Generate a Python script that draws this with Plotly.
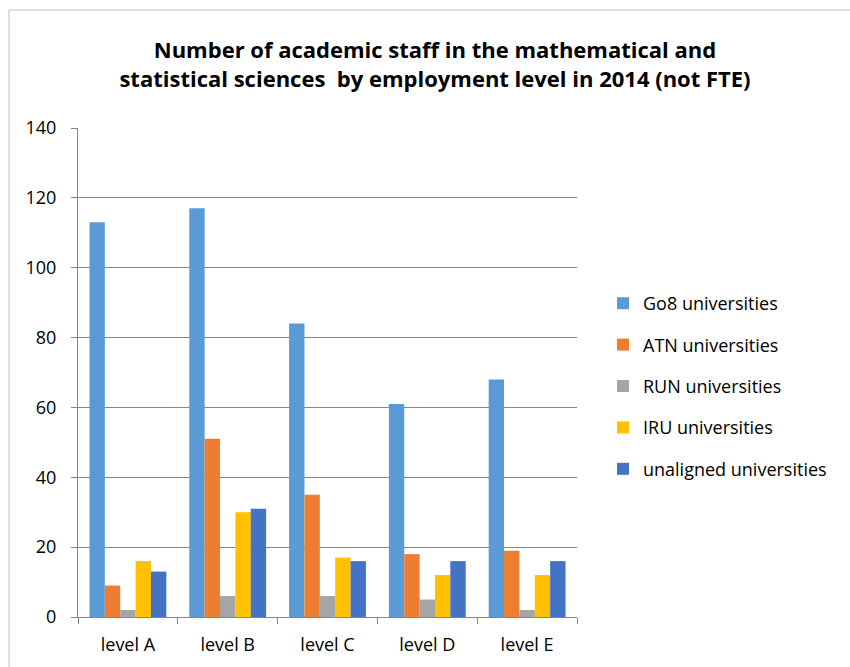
import plotly.graph_objects as go

categories = ["level A", "level B", "level C", "level D", "level E"]
series_names = ["Go8 universities", "ATN universities", "RUN universities",
                "IRU universities", "unaligned universities"]
go8 = [113, 117, 84, 61, 68]
atn = [9, 51, 35, 18, 19]
run = [2, 6, 6, 5, 2]
iru = [16, 30, 17, 12, 12]
unaligned = [13, 31, 16, 16, 16]
colors = ["#5B9BD5", "#ED7D31", "#A5A5A5", "#FFC000", "#4472C4"]
y_ticks = [0, 20, 40, 60, 80, 100, 120, 140]

W, H = 850, 667
L, R, T, B = 78, 273, 128, 50
pw, ph = W - L - R, H - T - B

FONT = "Open Sans"

fig = go.Figure()
for i, (name, vals) in enumerate(zip(series_names, [go8, atn, run, iru, unaligned])):
    fig.add_trace(go.Bar(x=categories, y=vals, name=name,
                         marker=dict(color=colors[i], line=dict(width=0)),
                         legendgroup=f"g{i}"))

def px_x(p):
    return (p - L) / pw

def px_y(p):
    return 1 - (p - T) / ph

fig.update_layout(
    width=W, height=H,
    margin=dict(l=L, r=R, t=T, b=B),
    paper_bgcolor="white", plot_bgcolor="white",
    barmode="group", bargap=0.23, bargroupgap=0,
    font=dict(family=FONT, size=18, color="#000000"),
    title=dict(
        text="<b>Number of academic staff in the mathematical and<br>statistical sciences  by employment level in 2014 (not FTE)</b>",
        x=435 / W, xanchor="center", y=1 - 58 / H, yanchor="middle",
        font=dict(family=FONT, size=22, color="#000000"),
    ),
    xaxis=dict(
        showline=True, linecolor="#868686", linewidth=1,
        ticks="outside", tickson="boundaries", ticklen=6, tickcolor="#868686",
        showgrid=False, tickfont=dict(size=18), fixedrange=True,
        ticklabelstandoff=11,
    ),
    yaxis=dict(
        range=[0, 140], tickvals=y_ticks, showline=True, linecolor="#868686",
        linewidth=1, ticks="outside", ticklen=6, tickcolor="#868686",
        showgrid=True, gridcolor="#868686", gridwidth=1, zeroline=False,
        tickfont=dict(size=18), ticklabelstandoff=11,
    ),
    legend=dict(
        x=px_x(603), xanchor="left", y=px_y(285), yanchor="top",
        font=dict(size=18), tracegroupgap=15, bgcolor="rgba(0,0,0,0)",
    ),
    showlegend=True,
)

fig.add_shape(type="rect", xref="paper", yref="paper",
              x0=px_x(9), x1=px_x(900), y0=px_y(720), y1=px_y(10),
              line=dict(color="#BFBFBF", width=1), fillcolor="rgba(0,0,0,0)",
              layer="below")

fig.write_html("out.html")
